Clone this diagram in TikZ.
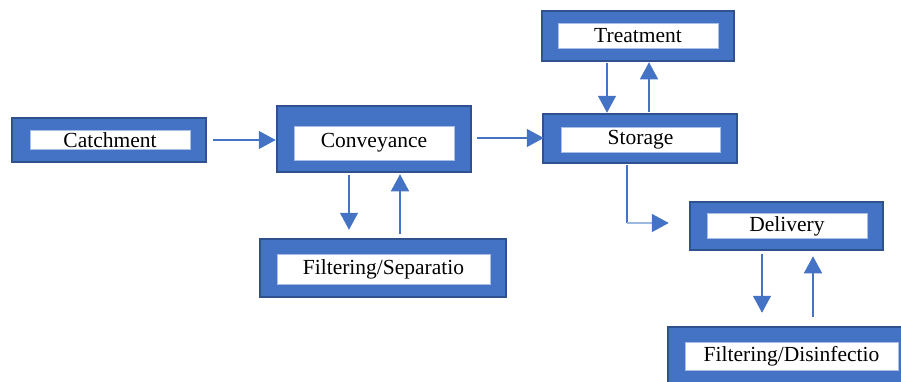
\documentclass[tikz,border=0pt]{standalone}
\usepackage{fontspec}
\setmainfont{Liberation Serif}
\usetikzlibrary{arrows.meta,calc}
\definecolor{boxblue}{HTML}{4472C4}
\definecolor{boxedge}{HTML}{2F528F}
\definecolor{inedge}{HTML}{A9BEE6}
\definecolor{lightarr}{HTML}{9DB7E3}
\tikzset{
  outerbox/.style={draw=boxedge, fill=boxblue, line width=2.5pt, inner sep=0pt, rectangle},
  innerbox/.style={draw=inedge, fill=white, line width=0.8pt, inner sep=0pt, rectangle,
    font=\fontsize{21.5}{25}\selectfont},
  tipstyle/.style={-{Triangle[length=17pt 0,width=18pt 0,color=boxblue,fill=boxblue]}},
  arr/.style={draw=boxblue, line width=1.4pt, tipstyle},
}
\begin{document}
\begin{tikzpicture}[x=1pt,y=-1pt]
\useasboundingbox (0,0) rectangle (901,381);
\clip (0,0) rectangle (901,381);
% boxes
\node[outerbox, minimum width=194pt, minimum height=44pt] (catch) at (109,140) {};
\node[innerbox, minimum width=160pt, minimum height=19pt] (catchT) at (110,140) {Catchment};
\node[outerbox, minimum width=194pt, minimum height=66pt] (conv) at (374,139) {};
\node[innerbox, minimum width=160pt, minimum height=34pt] (convT) at (374,143) {Conveyance};
\node[outerbox, minimum width=246pt, minimum height=58pt] (filt) at (383,268) {};
\node[innerbox, minimum width=213pt, minimum height=30pt] (filtT) at (383.5,269) {Filtering/Separatio};
\node[outerbox, minimum width=192pt, minimum height=50pt] (treat) at (638,36) {};
\node[innerbox, minimum width=160pt, minimum height=25pt] (treatT) at (638,36) {Treatment};
\node[outerbox, minimum width=194pt, minimum height=49pt] (stor) at (640,138.5) {};
\node[innerbox, minimum width=159pt, minimum height=25pt] (storT) at (640.5,140) {Storage};
\node[outerbox, minimum width=193pt, minimum height=48pt] (deliv) at (786.5,226) {};
\node[innerbox, minimum width=160pt, minimum height=25pt] (delivT) at (787,226) {Delivery};
\node[outerbox, minimum width=247pt, minimum height=58pt] (disf) at (791.5,356) {};
\node[innerbox, minimum width=213pt, minimum height=28pt] (disfT) at (791.5,356) {Filtering/Disinfectio};
% connectors
\draw[arr] ([xshift=6pt]catch.east) -- (catch.east -| conv.west);
\draw[arr, shorten >=3pt] ([xshift=5pt,yshift=1pt]conv.east) -- ([xshift=5pt,yshift=1pt]conv.east -| stor.west);
\draw[arr, shorten <=2pt, shorten >=8pt] ([xshift=-25pt]conv.south) -- ([xshift=-25pt]conv.south |- filt.north);
\draw[arr, shorten <=4pt, shorten >=1pt] ([xshift=26pt]conv.south |- filt.north) -- ([xshift=26pt]conv.south);
\draw[arr, shorten <=1pt] ([xshift=-31pt]treat.south) -- ([xshift=-31pt]treat.south |- stor.north);
\draw[arr, shorten <=1pt] ([xshift=11pt]treat.south |- stor.north) -- ([xshift=11pt]treat.south);
\coordinate (elbow) at ([xshift=-13pt]stor.south |- deliv.west);
\coordinate (corner) at ([yshift=3pt]elbow);
\coordinate (tipD) at ([xshift=-20pt,yshift=3pt]deliv.west);
\draw[boxblue, line width=1.4pt] ([xshift=-13pt,yshift=-1pt]stor.south) -- (corner);
\draw[lightarr, line width=2pt, tipstyle] (corner) -- (tipD);
\draw[arr, shorten <=3pt, shorten >=13pt] ([xshift=-24.5pt]deliv.south) -- ([xshift=-24.5pt]deliv.south |- disf.north);
\draw[arr, shorten <=9pt, shorten >=5pt] ([xshift=26.5pt]deliv.south |- disf.north) -- ([xshift=26.5pt]deliv.south);
\end{tikzpicture}
\end{document}
